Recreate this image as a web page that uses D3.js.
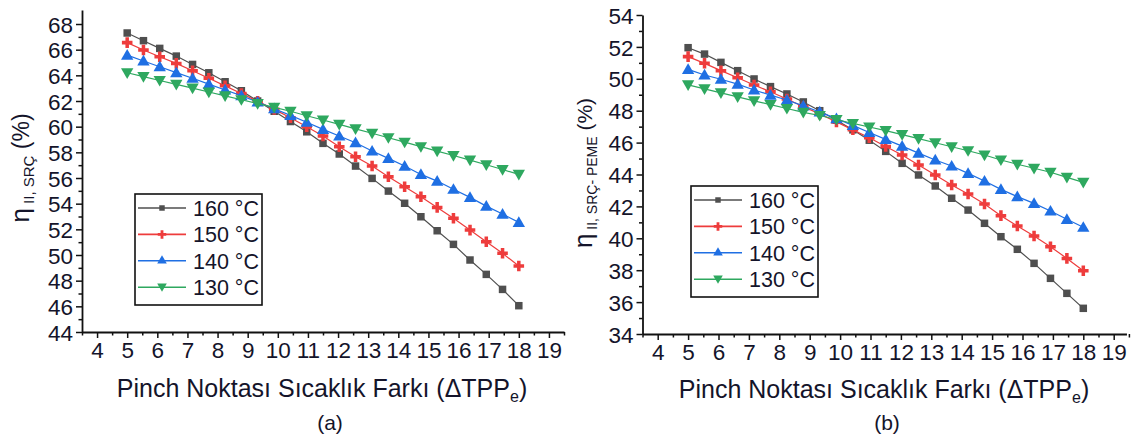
<!DOCTYPE html>
<html>
<head>
<meta charset="utf-8">
<script src="https://cdn.jsdelivr.net/npm/d3@7"></script>
<style>
  body { margin: 0; background: #fff; }
  svg { display: block; font-family: "Liberation Sans", Arial, sans-serif; }
</style>
</head>
<body>
<svg id="chart" width="1134" height="443"></svg>
<script>
// pinch point temperature difference (x values of the markers)
const xVals = [5, 5.54, 6.08, 6.63, 7.17, 7.71, 8.25, 8.79, 9.33, 9.88, 10.42, 10.96, 11.5,
    12.04, 12.58, 13.13, 13.67, 14.21, 14.75, 15.29, 15.83, 16.38, 16.92, 17.46, 18];

const seriesNames = ['160 °C', '150 °C', '140 °C', '130 °C'];

// (a) eta II, SRC
const a160 = [67.3, 66.7, 66.1, 65.5, 64.85, 64.2, 63.5, 62.8, 62.0, 61.2, 60.4, 59.6, 58.7,
    57.87, 56.93, 55.97, 54.98, 54.03, 52.98, 51.89, 50.83, 49.61, 48.49, 47.32, 46.05];
const a150 = [66.55, 65.97, 65.45, 64.93, 64.36, 63.77, 63.18, 62.58, 61.98, 61.35, 60.7, 60.0, 59.27,
    58.44, 57.66, 56.93, 56.1, 55.32, 54.54, 53.71, 52.86, 51.94, 51.03, 50.13, 49.14];
const a140 = [65.58, 65.12, 64.67, 64.21, 63.77, 63.32, 62.86, 62.42, 61.92, 61.4, 60.88, 60.34, 59.79,
    59.27, 58.75, 58.1, 57.53, 56.93, 56.28, 55.76, 55.12, 54.49, 53.81, 53.19, 52.54];
const a130 = [64.2, 63.9, 63.6, 63.3, 63.0, 62.7, 62.4, 62.1, 61.8, 61.5, 61.2, 60.85, 60.52,
    60.18, 59.83, 59.49, 59.14, 58.79, 58.44, 58.1, 57.75, 57.39, 57.03, 56.66, 56.28];

// (b) eta II, SRC-PEME
const b160 = [51.95, 51.55, 51.03, 50.51, 49.99, 49.51, 49.05, 48.55, 48.0, 47.4, 46.8, 46.15, 45.45,
    44.7, 43.97, 43.28, 42.51, 41.77, 40.94, 40.1, 39.31, 38.43, 37.49, 36.55, 35.61];
const b150 = [51.39, 50.97, 50.51, 50.07, 49.61, 49.19, 48.73, 48.25, 47.8, 47.3, 46.8, 46.3, 45.75,
    45.22, 44.6, 43.97, 43.34, 42.78, 42.15, 41.42, 40.77, 40.14, 39.47, 38.74, 37.97];
const b140 = [50.59, 50.24, 49.97, 49.67, 49.3, 48.98, 48.67, 48.3, 47.92, 47.5, 47.08, 46.63, 46.2,
    45.78, 45.34, 44.91, 44.53, 44.07, 43.59, 43.07, 42.61, 42.19, 41.71, 41.19, 40.69];
const b130 = [49.62, 49.37, 49.12, 48.87, 48.62, 48.38, 48.14, 47.9, 47.7, 47.45, 47.2, 46.98, 46.75,
    46.5, 46.25, 45.99, 45.74, 45.49, 45.22, 44.91, 44.64, 44.39, 44.14, 43.82, 43.51];

const xTicks = d3.range(4, 20);
const xMinor = d3.range(3.5, 19.6, 0.5).filter(v => v % 1 !== 0);
const aTicks = d3.range(44, 69, 2);
const bTicks = d3.range(34, 55, 2);

const colors = ['#4f4f4f', '#ee3c3c', '#1f6fe3', '#2ea85f'];
const symbols = [d3.symbolSquare, d3.symbolCross, d3.symbolTriangle, d3.symbolTriangle];
const flips = [0, 0, 0, 180];
const textColor = '#14142a';

const svg = d3.select('#chart');

function panel(p) {
    const x = d3.scaleLinear().domain(p.xDomain).range(p.xRange);
    const y = d3.scaleLinear().domain(p.yDomain).range(p.yRange);
    const g = svg.append('g');

    // series
    p.series.forEach((vals, i) => {
        const pts = xVals.map((xv, j) => [xv, vals[j]]);
        g.append('path')
            .datum(pts)
            .attr('fill', 'none')
            .attr('stroke', colors[i])
            .attr('stroke-width', 1.2)
            .attr('d', d3.line().x(d => x(d[0])).y(d => y(d[1])));
        g.selectAll(null)
            .data(pts)
            .enter()
            .append('path')
            .attr('transform', d => `translate(${x(d[0])},${y(d[1]) + (flips[i] ? -1 : (i === 2 ? 1 : 0))}) rotate(${flips[i]})`)
            .attr('d', d3.symbol().type(symbols[i]).size(i === 0 ? 56 : (i === 1 ? 62 : 66)))
            .attr('fill', colors[i]);
    });

    // axes
    const xAxis = g.append('g')
        .attr('transform', `translate(0,${p.yRange[0]})`)
        .call(d3.axisBottom(x).tickValues(xTicks).tickSize(6).tickSizeOuter(0).tickPadding(4));
    g.append('g')
        .attr('transform', `translate(0,${p.yRange[0]})`)
        .call(d3.axisBottom(x).tickValues(xMinor).tickSize(3.5).tickFormat(''))
        .select('.domain').remove();
    const yAxis = g.append('g')
        .attr('transform', `translate(${p.xRange[0]},0)`)
        .call(d3.axisLeft(y).tickValues(p.yTicks).tickSize(6).tickSizeOuter(0).tickPadding(3));
    g.append('g')
        .attr('transform', `translate(${p.xRange[0]},0)`)
        .call(d3.axisLeft(y).tickValues(p.yMinor).tickSize(3.5).tickFormat(''))
        .select('.domain').remove();

    g.selectAll('.domain').attr('stroke', '#111').attr('stroke-width', 1.8);
    g.selectAll('.tick line').attr('stroke', '#111').attr('stroke-width', 1.5);
    g.selectAll('.tick text')
        .attr('fill', textColor)
        .attr('font-size', 22.5)
        .attr('font-family', '"Liberation Sans", Arial, sans-serif');
    xAxis.selectAll('.tick text').attr('dy', '0.7em');
    yAxis.selectAll('.tick text').attr('dy', '0.36em');

    // x title
    const xt = g.append('text')
        .attr('x', p.xTitle[0])
        .attr('y', p.xTitle[1])
        .attr('text-anchor', 'middle')
        .attr('font-size', 25)
        .attr('fill', textColor);
    xt.append('tspan').text('Pinch Noktası Sıcaklık Farkı (ΔTPP');
    xt.append('tspan').attr('font-size', 16).attr('dy', 5).text('e');
    xt.append('tspan').attr('dy', -5).text(')');

    g.append('text')
        .attr('x', p.label[0])
        .attr('y', p.label[1])
        .attr('text-anchor', 'middle')
        .attr('font-size', 21)
        .attr('fill', textColor)
        .text(p.labelText);

    // y title
    const yt = g.append('text')
        .attr('transform', `translate(${p.yTitle[0]},${p.yTitle[1]}) rotate(-90)`)
        .attr('text-anchor', 'middle')
        .attr('fill', textColor);
    yt.append('tspan').attr('font-size', 26).text('η');
    yt.append('tspan').attr('font-size', p.subSize).attr('dy', 5).text(' ' + p.sub);
    yt.append('tspan').attr('font-size', p.pctSize).attr('dy', -5).text(' (%)');

    // legend
    const lg = g.append('g').attr('transform', `translate(${p.legend[0]},${p.legend[1]})`);
    lg.append('rect')
        .attr('width', p.legendSize[0])
        .attr('height', p.legendSize[1])
        .attr('fill', '#fff')
        .attr('stroke', '#111')
        .attr('stroke-width', 1.6);
    seriesNames.forEach((name, i) => {
        const cy = 14 + i * 26.4;
        lg.append('line')
            .attr('x1', 3).attr('x2', 51)
            .attr('y1', cy).attr('y2', cy)
            .attr('stroke', colors[i])
            .attr('stroke-width', 1.6);
        lg.append('path')
            .attr('transform', `translate(27,${cy + (flips[i] ? -1 : 0)}) rotate(${flips[i]})`)
            .attr('d', d3.symbol().type(symbols[i]).size(i === 0 ? 30 : 40))
            .attr('fill', colors[i]);
        lg.append('text')
            .attr('x', 58)
            .attr('y', cy)
            .attr('dy', '0.36em')
            .attr('font-size', 21.5)
            .attr('fill', textColor)
            .text(name);
    });
}

panel({
    series: [a160, a150, a140, a130],
    xDomain: [3.5, 19.5], xRange: [82, 564],
    yDomain: [44, 69.1], yRange: [332, 332 - 25.1 * 12.833],
    yTicks: aTicks, yMinor: d3.range(45, 69, 2),
    xTitle: [322, 397], label: [330, 430], labelText: '(a)',
    yTitle: [29, 168], sub: 'II, SRÇ', subSize: 15, pctSize: 23,
    legend: [135, 194], legendSize: [127, 111]
});

panel({
    series: [b160, b150, b140, b130],
    xDomain: [3.5, 19.42], xRange: [642.5, 642.5 + 15.92 * 30.4],
    yDomain: [34, 54], yRange: [334, 15],
    yTicks: bTicks, yMinor: d3.range(35, 54, 2),
    xTitle: [884, 398], label: [887, 430], labelText: '(b)',
    yTitle: [592, 173], sub: 'II, SRÇ- PEME', subSize: 14, pctSize: 21,
    legend: [691, 186], legendSize: [127, 111]
});
</script>
</body>
</html>
